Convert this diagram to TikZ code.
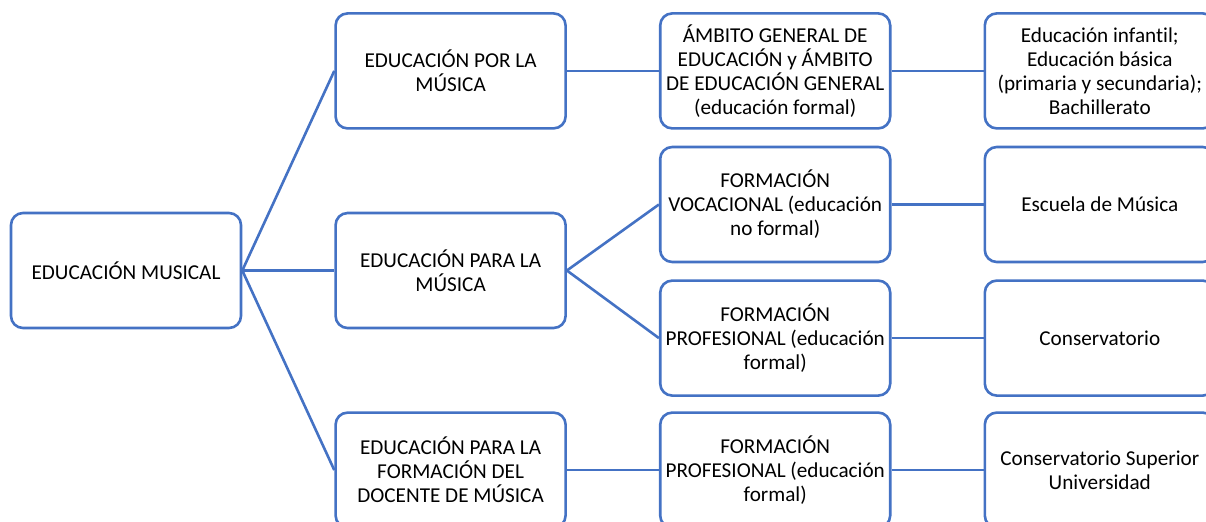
\documentclass[tikz,border=0pt]{standalone}
\usepackage{fontspec}
\setmainfont{Carlito}[Ligatures=NoCommon]
\usetikzlibrary{positioning}
\definecolor{azul}{RGB}{68,114,196}

\begin{document}
\begin{tikzpicture}[node distance=8pt and 46pt,
    bloque/.style={rectangle, draw=azul, rounded corners=6pt, line width=1.3pt,
      minimum width=115pt, minimum height=57.5pt, align=center, inner sep=2pt,
      font=\fontsize{10.6}{12}\selectfont},
    linea/.style={draw=azul, line width=1.3pt}]

    \path[use as bounding box, clip] (-63pt,-125.25pt) rectangle (540pt,135.25pt);

    % Raiz
    \node[bloque] (musical) {EDUCACIÓN MUSICAL};

    % Nivel 1
    \node[bloque, right=of musical] (para) {EDUCACIÓN PARA LA\\MÚSICA};
    \node[bloque, above=41pt of para] (por) {EDUCACIÓN POR LA\\MÚSICA};
    \node[bloque, below=41pt of para] (docente) {EDUCACIÓN PARA LA\\FORMACIÓN DEL\\DOCENTE DE MÚSICA};

    % Nivel 2
    \node[bloque, right=of por] (ambito) {ÁMBITO GENERAL DE\\EDUCACIÓN y ÁMBITO\\DE EDUCACIÓN GENERAL\\(educación formal)};
    \node[bloque, below=of ambito] (vocacional) {FORMACIÓN\\VOCACIONAL (educación\\no formal)};
    \node[bloque, below=of vocacional] (profesional) {FORMACIÓN\\PROFESIONAL (educación\\formal)};
    \node[bloque, right=of docente] (profdocente) {FORMACIÓN\\PROFESIONAL (educación\\formal)};

    % Nivel 3
    \node[bloque, right=of ambito] (basica) {Educación infantil;\\Educación básica\\(primaria y secundaria);\\Bachillerato};
    \node[bloque, right=of vocacional] (escuela) {Escuela de Música};
    \node[bloque, right=of profesional] (conserv) {Conservatorio};
    \node[bloque, right=of profdocente] (superior) {Conservatorio Superior\\Universidad};

    % Lineas
    \draw[linea] (musical.east) -- (por.west);
    \draw[linea] (musical.east) -- (para.west);
    \draw[linea] (musical.east) -- (docente.west);
    \draw[linea] (por) -- (ambito);
    \draw[linea] (para.east) -- (vocacional.west);
    \draw[linea] (para.east) -- (profesional.west);
    \draw[linea] (docente) -- (profdocente);
    \draw[linea] (ambito) -- (basica);
    \draw[linea] (vocacional) -- (escuela);
    \draw[linea] (profesional) -- (conserv);
    \draw[linea] (profdocente) -- (superior);
  \end{tikzpicture}
\end{document}
